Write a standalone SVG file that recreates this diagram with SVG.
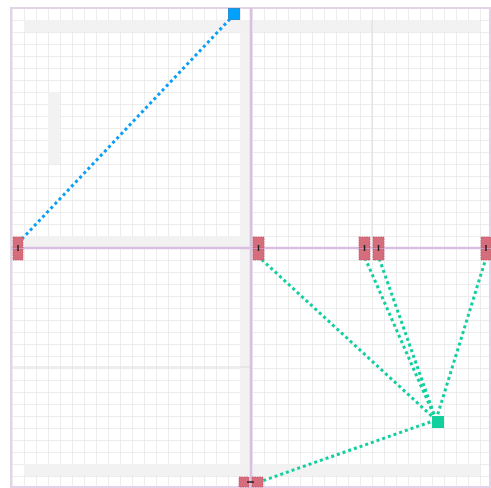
<svg xmlns="http://www.w3.org/2000/svg" width="491" height="488" viewBox="0 0 491 488">
<style>
.strip{fill:#f1f1f1}
.div{stroke:#d9bfe0;stroke-width:2.5;fill:none}
.border{stroke:#e4d2e9;stroke-width:2;fill:none}
.major{stroke:#dcdcdc;stroke-width:1}
.port{fill:#d56d7c;stroke:#c75868;stroke-width:0.8;stroke-dasharray:1.5 1}
.tick{stroke:#222;stroke-width:1.5}
.conn-blue{stroke:#0a9ff5;stroke-width:3;stroke-dasharray:3 3;fill:none}
.conn-green{stroke:#12cf9e;stroke-width:3;stroke-dasharray:3 3;fill:none}
</style>
<defs>
<pattern id="grid" x="12" y="8" width="12" height="12" patternUnits="userSpaceOnUse">
<path d="M0 0H12M0 0V12" stroke="#e8e8e8" stroke-width="1.5" fill="none"/>
</pattern>
</defs>
<rect width="491" height="488" fill="#ffffff"/>
<g id="background">
<rect x="12" y="8" width="480" height="480" fill="url(#grid)"/>
<rect class="strip" x="24" y="20" width="456" height="12" opacity="0.9"/>
<rect class="strip" x="240" y="20" width="11" height="456" opacity="0.9"/>
<rect class="strip" x="24" y="236" width="216" height="12" opacity="0.9"/>
<rect class="strip" x="48" y="92" width="12" height="72" opacity="0.9"/>
<rect class="strip" x="24" y="464" width="456" height="12" opacity="0.9"/>
<line class="major" x1="372" y1="20" x2="372" y2="248"/>
<line class="major" x1="12" y1="367" x2="250" y2="367"/>
<rect class="border" x="11" y="8" width="479" height="479"/>
<line class="div" x1="251" y1="8" x2="251" y2="488"/>
<line class="div" x1="11" y1="248" x2="491" y2="248"/>
</g>
<g id="connectors">
<line class="conn-blue" x1="230" y1="19" x2="21" y2="240"/>
<line class="conn-green" x1="436" y1="420" x2="260" y2="258"/>
<line class="conn-green" x1="436" y1="420" x2="365" y2="258"/>
<line class="conn-green" x1="436" y1="420" x2="379" y2="258"/>
<line class="conn-green" x1="436" y1="420" x2="486" y2="258"/>
<line class="conn-green" x1="436" y1="420" x2="262" y2="481"/>
</g>
<g id="node-left">
<rect class="port" x="13" y="237" width="10" height="11"/>
<rect class="port" x="13" y="249" width="10" height="11"/>
<line class="tick" x1="18" y1="245" x2="18" y2="251"/>
</g>
<g id="node-center">
<rect class="port" x="253" y="237" width="11" height="11"/>
<rect class="port" x="253" y="249" width="11" height="11"/>
<line class="tick" x1="258.5" y1="245" x2="258.5" y2="251"/>
</g>
<g id="node-right-a">
<rect class="port" x="359" y="237" width="11" height="11"/>
<rect class="port" x="359" y="249" width="11" height="11"/>
<line class="tick" x1="364.5" y1="245" x2="364.5" y2="251"/>
</g>
<g id="node-right-b">
<rect class="port" x="373" y="237" width="11" height="11"/>
<rect class="port" x="373" y="249" width="11" height="11"/>
<line class="tick" x1="378.5" y1="245" x2="378.5" y2="251"/>
</g>
<g id="node-right-edge">
<rect class="port" x="481" y="237" width="10" height="11"/>
<rect class="port" x="481" y="249" width="10" height="11"/>
<line class="tick" x1="486" y1="245" x2="486" y2="251"/>
</g>
<g id="node-bottom">
<rect class="port" x="239" y="477" width="10" height="10"/>
<rect class="port" x="252" y="477" width="11" height="10"/>
<line class="tick" x1="247" y1="482" x2="254" y2="482"/>
</g>
<g id="node-blue">
<rect x="228.5" y="8.5" width="11" height="11" fill="#00a2ff" stroke="#2a8ed0" stroke-width="1"/>
</g>
<g id="node-green">
<rect x="432" y="416" width="12" height="12" fill="#12d09e"/>
</g>
</svg>
